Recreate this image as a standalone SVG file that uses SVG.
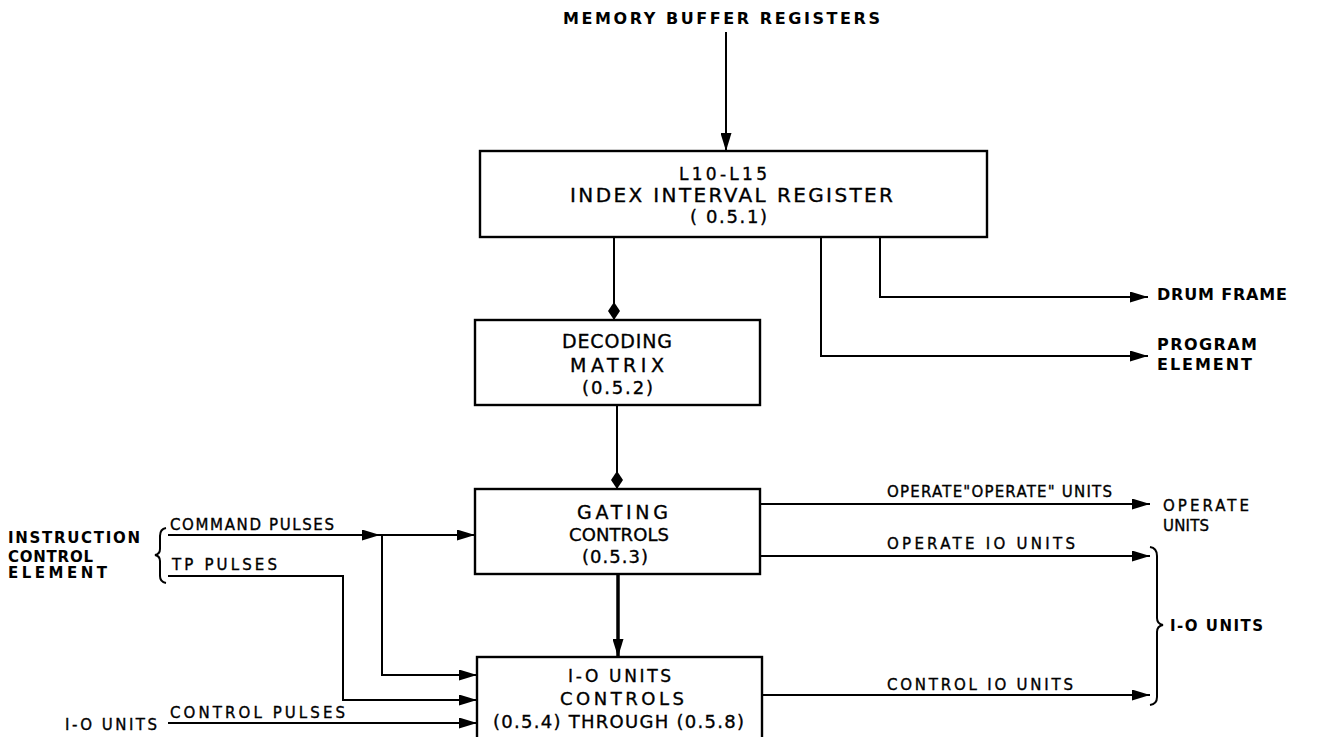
<svg xmlns="http://www.w3.org/2000/svg" width="1319" height="737" viewBox="0 0 1319 737">
<style>
.t{font-family:"DejaVu Sans","Liberation Sans",Arial,sans-serif;fill:#000;stroke:#000;stroke-width:0.35;}
.b{font-weight:bold;stroke-width:0;}
.box{fill:#fff;stroke:#000;stroke-width:2.4;}
.c{fill:none;stroke:#000;stroke-width:2;}
.ct{fill:none;stroke:#000;stroke-width:3.5;}
</style>
<defs>
<marker id="ah" viewBox="0 0 18 11" refX="18" refY="5.5" markerWidth="18" markerHeight="11" markerUnits="userSpaceOnUse" orient="auto">
<path d="M0,0 L18,5.5 L0,11 Z" fill="#000"/>
</marker>
<marker id="dm" viewBox="0 0 18 12" refX="18" refY="6" markerWidth="18" markerHeight="12" markerUnits="userSpaceOnUse" orient="auto">
<path d="M0,6 L9,0 L18,6 L9,12 Z" fill="#000"/>
</marker>
</defs>
<rect width="1319" height="737" fill="#fff"/>

<g id="connectors">
<path class="c" d="M726,32 V151" marker-end="url(#ah)"/>
<path class="c" d="M614,237 V320" marker-end="url(#dm)"/>
<path class="c" d="M880,237 V297 H1148" marker-end="url(#ah)"/>
<path class="c" d="M821,237 V356 H1148" marker-end="url(#ah)"/>
<path class="c" d="M617,405 V489" marker-end="url(#dm)"/>
<path class="c" d="M168,535 H380" marker-end="url(#ah)"/>
<path class="c" d="M380,535 H475" marker-end="url(#ah)"/>
<path class="c" d="M382,535 V675 H477" marker-end="url(#ah)"/>
<path class="c" d="M168,576 H343 V700 H477" marker-end="url(#ah)"/>
<path class="c" d="M168,723 H477" marker-end="url(#ah)"/>
<path class="ct" d="M618,574 V657" marker-end="url(#ah)"/>
<path class="c" d="M760,504 H1150" marker-end="url(#ah)"/>
<path class="c" d="M760,556 H1150" marker-end="url(#ah)"/>
<path class="c" d="M762,695 H1150" marker-end="url(#ah)"/>
<path class="c" d="M166,528 Q160,529 160,536 V549 Q160,554 155,555 Q160,556 160,561 V576 Q160,582 166,583"/>
<path class="c" d="M1150,547 Q1157,548 1157,556 V618 Q1157,624 1163,625 Q1157,626 1157,632 V697 Q1157,704 1150,705"/>
</g>

<g id="label-mbr"><text class="t b" x="563" y="24" font-size="16" textLength="317" lengthAdjust="spacing">MEMORY BUFFER REGISTERS</text></g>

<g id="node-index">
<rect class="box" x="480" y="151" width="507" height="86"/>
<text class="t" x="679" y="180" font-size="17" textLength="88" lengthAdjust="spacing">L10-L15</text>
<text class="t" x="570" y="202" font-size="20" textLength="323" lengthAdjust="spacing">INDEX INTERVAL REGISTER</text>
<text class="t" x="690" y="223" font-size="18" textLength="77" lengthAdjust="spacing">( 0.5.1)</text>
</g>

<g id="node-decoding">
<rect class="box" x="475" y="320" width="285" height="85"/>
<text class="t" x="562" y="348" font-size="19" textLength="110" lengthAdjust="spacing">DECODING</text>
<text class="t" x="570" y="372" font-size="19" textLength="94" lengthAdjust="spacing">MATRIX</text>
<text class="t" x="582" y="394" font-size="18" textLength="71" lengthAdjust="spacing">(0.5.2)</text>
</g>

<g id="node-gating">
<rect class="box" x="475" y="489" width="285" height="85"/>
<text class="t" x="577" y="519" font-size="19" textLength="91" lengthAdjust="spacing">GATING</text>
<text class="t" x="569" y="541" font-size="18" textLength="100" lengthAdjust="spacing">CONTROLS</text>
<text class="t" x="582" y="563" font-size="18" textLength="66" lengthAdjust="spacing">(0.5.3)</text>
</g>

<g id="node-io">
<rect class="box" x="477" y="657" width="285" height="100"/>
<text class="t" x="568" y="682" font-size="17" textLength="103" lengthAdjust="spacing">I-O UNITS</text>
<text class="t" x="560" y="705" font-size="18" textLength="124" lengthAdjust="spacing">CONTROLS</text>
<text class="t" x="493" y="728" font-size="18" textLength="251" lengthAdjust="spacing">(0.5.4) THROUGH (0.5.8)</text>
</g>

<g id="label-drum"><text class="t b" x="1157" y="300" font-size="16" textLength="130" lengthAdjust="spacing">DRUM FRAME</text></g>
<g id="label-program">
<text class="t b" x="1157" y="350" font-size="16" textLength="100" lengthAdjust="spacing">PROGRAM</text>
<text class="t b" x="1157" y="370" font-size="16" textLength="95" lengthAdjust="spacing">ELEMENT</text>
</g>

<g id="label-instruction">
<text class="t b" x="8" y="543" font-size="15" textLength="132" lengthAdjust="spacing">INSTRUCTION</text>
<text class="t b" x="8" y="562" font-size="15" textLength="85" lengthAdjust="spacing">CONTROL</text>
<text class="t b" x="8" y="578" font-size="15" textLength="99" lengthAdjust="spacing">ELEMENT</text>
</g>
<text class="t" x="170" y="530" font-size="15" textLength="164" lengthAdjust="spacing">COMMAND PULSES</text>
<text class="t" x="172" y="570" font-size="15" textLength="105" lengthAdjust="spacing">TP PULSES</text>
<g id="label-io-in"><text class="t" x="65" y="730" font-size="15" textLength="92" lengthAdjust="spacing">I-O UNITS</text></g>
<text class="t" x="170" y="718" font-size="15" textLength="175" lengthAdjust="spacing">CONTROL PULSES</text>

<text class="t" x="887" y="497" font-size="15" textLength="225" lengthAdjust="spacing">OPERATE"OPERATE" UNITS</text>
<g id="label-operate-units">
<text class="t" x="1163" y="511" font-size="15" textLength="86" lengthAdjust="spacing">OPERATE</text>
<text class="t" x="1163" y="531" font-size="15" textLength="46" lengthAdjust="spacing">UNITS</text>
</g>
<text class="t" x="887" y="549" font-size="15" textLength="188" lengthAdjust="spacing">OPERATE IO UNITS</text>
<text class="t" x="887" y="690" font-size="15" textLength="186" lengthAdjust="spacing">CONTROL IO UNITS</text>
<g id="label-io-out"><text class="t b" x="1170" y="631" font-size="15" textLength="93" lengthAdjust="spacing">I-O UNITS</text></g>
</svg>
